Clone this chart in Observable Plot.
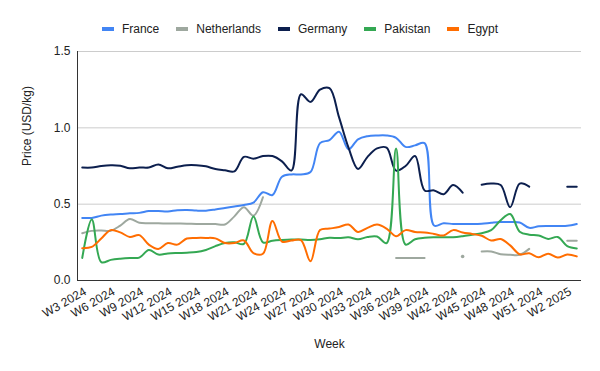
<!DOCTYPE html>
<html>
<head>
<meta charset="utf-8">
<script src="https://cdn.jsdelivr.net/npm/d3@7"></script>
<script src="https://cdn.jsdelivr.net/npm/@observablehq/plot@0.6"></script>
<style>
  html, body { margin: 0; padding: 0; background: #fff; }
  body { width: 600px; font-family: Arial, "Liberation Sans", sans-serif; }
  #legend { height: 40px; box-sizing: border-box; padding-top: 18px; display: flex; justify-content: center; gap: 17px; font-size: 12px; color: #222; line-height: 14px; }
  #legend .item { display: flex; align-items: center; white-space: nowrap; }
  #legend .sw { width: 12px; height: 4px; margin-right: 8px; }
  #chart svg { display: block; }
</style>
</head>
<body>
<div id="legend"></div>
<div id="chart"></div>
<script>
const weeks = [
  "W3 2024","W4 2024","W5 2024","W6 2024","W7 2024","W8 2024","W9 2024","W10 2024","W11 2024","W12 2024",
  "W13 2024","W14 2024","W15 2024","W16 2024","W17 2024","W18 2024","W19 2024","W20 2024","W21 2024","W22 2024",
  "W23 2024","W24 2024","W25 2024","W26 2024","W27 2024","W28 2024","W29 2024","W30 2024","W31 2024","W32 2024",
  "W33 2024","W34 2024","W35 2024","W36 2024","W37 2024","W38 2024","W39 2024","W40 2024","W41 2024","W42 2024",
  "W43 2024","W44 2024","W45 2024","W46 2024","W47 2024","W48 2024","W49 2024","W50 2024","W51 2024","W52 2024",
  "W1 2025","W2 2025","W3 2025"
];

const france = [0.41,0.41,0.425,0.432,0.435,0.44,0.443,0.455,0.455,0.452,
  0.46,0.462,0.458,0.457,0.465,0.475,0.485,0.495,0.51,0.578,
  0.56,0.68,0.695,0.695,0.71,0.9,0.92,0.975,0.86,0.925,
  0.945,0.95,0.95,0.935,0.875,0.885,0.9,0.36,0.375,0.37,
  0.37,0.37,0.372,0.378,0.383,0.383,0.38,0.345,0.355,0.357,
  0.357,0.358,0.37];

const netherlands = [0.31,0.325,0.327,0.326,0.36,0.403,0.378,0.375,0.375,0.373,
  0.373,0.372,0.37,0.37,0.37,0.367,0.42,0.48,0.425,0.545,
  null,null,null,null,null,null,null,null,null,null,
  null,null,null,0.148,0.148,0.148,0.148,null,null,null,
  0.157,null,0.19,0.19,0.172,0.168,0.168,0.207,null,null,
  null,0.26,0.26];

const germany = [0.74,0.74,0.75,0.755,0.752,0.735,0.74,0.74,0.76,0.735,
  0.745,0.755,0.755,0.748,0.73,0.722,0.715,0.81,0.798,0.815,
  0.815,0.78,0.72,1.22,1.17,1.25,1.26,1.07,0.87,0.73,
  0.81,0.865,0.87,0.72,0.75,0.815,0.59,0.59,0.565,0.625,
  0.575,null,0.627,0.635,0.625,0.48,0.635,0.615,null,null,
  null,0.614,0.614];

const pakistan = [0.148,0.40,0.12,0.135,0.143,0.148,0.15,0.2,0.17,0.177,
  0.18,0.182,0.186,0.2,0.225,0.245,0.25,0.24,0.42,0.25,
  0.26,0.265,0.268,0.268,0.265,0.27,0.28,0.278,0.283,0.27,
  0.285,0.288,0.245,0.865,0.235,0.27,0.28,0.283,0.283,0.283,
  0.29,0.3,0.31,0.33,0.395,0.435,0.32,0.3,0.295,0.272,
  0.285,0.225,0.21];

const egypt = [0.212,0.22,0.275,0.33,0.315,0.285,0.297,0.235,0.207,0.245,
  0.235,0.275,0.279,0.279,0.276,0.245,0.245,0.262,0.18,0.175,
  0.39,0.255,0.262,0.265,0.126,0.33,0.34,0.35,0.367,0.318,
  0.345,0.366,0.34,0.29,0.33,0.318,0.315,0.305,0.295,0.33,
  0.315,0.305,0.293,0.262,0.272,0.23,0.172,0.178,0.152,0.176,
  0.15,0.17,0.158];

const seriesNames = ["France", "Netherlands", "Germany", "Pakistan", "Egypt"];
const seriesValues = [france, netherlands, germany, pakistan, egypt];
const seriesColors = ["#4285f4", "#9ea89f", "#0c1f4e", "#34a853", "#ff6d01"];
const yTicks = [0, 0.5, 1, 1.5];
const xTickStep = 3;

// Legend
const legend = document.getElementById("legend");
seriesNames.forEach((name, k) => {
  const item = document.createElement("div");
  item.className = "item";
  const sw = document.createElement("span");
  sw.className = "sw";
  sw.style.background = seriesColors[k];
  const label = document.createElement("span");
  label.textContent = name;
  item.appendChild(sw);
  item.appendChild(label);
  legend.appendChild(item);
});

// Long table
const table = [];
seriesNames.forEach((name, s) => {
  seriesValues[s].forEach((v, i) => table.push({ series: name, i, week: weeks[i], value: v == null ? NaN : v }));
});
// isolated points (no neighbours) are drawn as dots, as in the original
const isolated = [];
seriesNames.forEach((name, s) => {
  const vals = seriesValues[s];
  vals.forEach((v, i) => {
    if (v != null && vals[i - 1] == null && vals[i + 1] == null) isolated.push({ series: name, i, value: v });
  });
});

const xDomain = [-0.5, weeks.length - 0.5];

const chart = Plot.plot({
  width: 600,
  height: 331,
  marginTop: 11,
  marginBottom: 91,
  marginLeft: 77,
  marginRight: 19,
  style: { fontFamily: "Arial, 'Liberation Sans', sans-serif", fontSize: "12px", color: "#222", background: "#fff" },
  x: { type: "linear", domain: xDomain, axis: null },
  y: { domain: [0, 1.5], axis: null },
  color: { domain: seriesNames, range: seriesColors },
  marks: [
    Plot.gridY(yTicks.filter(t => t > 0), { stroke: "#cccccc", strokeOpacity: 1 }),
    Plot.axisY({ ticks: yTicks, tickFormat: d3.format(".1f"), tickSize: 0, tickPadding: 7, label: null, fill: "#222" }),
    Plot.axisX({ ticks: d3.range(0, weeks.length, xTickStep), tickFormat: i => weeks[i], tickRotate: -30, tickSize: 0, tickPadding: 10, dx: 3, label: null, fill: "#222" }),
    Plot.ruleY([0], { stroke: "#333" }),
    Plot.ruleX([xDomain[0]], { stroke: "#333" }),
    Plot.line(table, { x: "i", y: "value", z: "series", stroke: "series", strokeWidth: 2, curve: "catmull-rom" }),
    Plot.dot(isolated, { x: "i", y: "value", fill: "series", r: 1.8 }),
    Plot.text(["Week"], { text: d => d, frameAnchor: "bottom", lineAnchor: "middle", dy: 64, fill: "#222", fontSize: 12 }),
    Plot.text(["Price (USD/kg)"], { text: d => d, frameAnchor: "left", rotate: -90, dx: -50, fill: "#222", fontSize: 12 })
  ]
});
document.getElementById("chart").appendChild(chart);
</script>
</body>
</html>
